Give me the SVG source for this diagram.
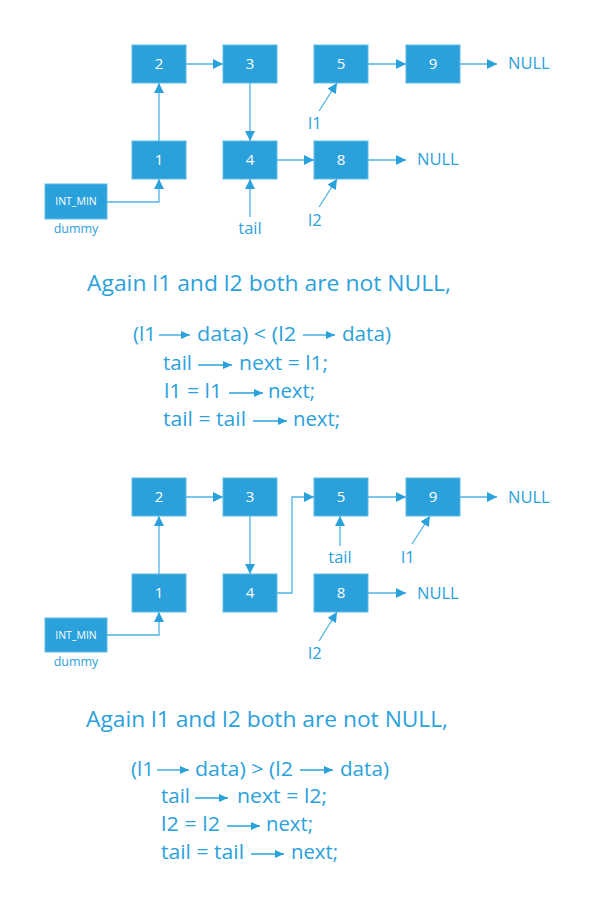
<svg xmlns="http://www.w3.org/2000/svg" width="595" height="900" viewBox="0 0 595 900">
<defs>
<style>
.box{fill:#2ba1dc;stroke:#62b9e6;stroke-width:1}
.nt{fill:#fff;font-family:"Open Sans","DejaVu Sans",sans-serif;font-size:15px;text-anchor:middle}
.sm{fill:#fff;font-family:"Open Sans","DejaVu Sans",sans-serif;font-size:10.5px;text-anchor:middle}
.lb{fill:#2ba1dc;font-family:"Open Sans","DejaVu Sans",sans-serif;font-size:16.5px}
.lbs{fill:#2ba1dc;font-family:"Open Sans","DejaVu Sans",sans-serif;font-size:12.5px}
.hd{fill:#2ba1dc;font-family:"Open Sans","DejaVu Sans",sans-serif;font-size:22.5px}
.cd{fill:#2ba1dc;font-family:"Open Sans","DejaVu Sans",sans-serif;font-size:19.5px}
.ln{fill:none;stroke:#4fb2e4;stroke-width:1.3}
.ca{fill:none;stroke:#2ba1dc;stroke-width:1.3}
</style>
<marker id="ah" markerWidth="10" markerHeight="10" refX="10" refY="5" orient="auto" markerUnits="userSpaceOnUse" viewBox="0 0 10 10">
<path d="M0,0 L10,5 L0,10 Z" fill="#2ba1dc"/>
</marker>
<marker id="sa" markerWidth="9" markerHeight="8" refX="9" refY="4" orient="auto" markerUnits="userSpaceOnUse" viewBox="0 0 9 8">
<path d="M0,0 L9,4 L0,8 Z" fill="#2ba1dc"/>
</marker>
</defs>
<rect width="595" height="900" fill="#fff"/>

<!-- Top diagram -->
<g id="connectors-top">
<path class="ln" d="M107,202 H159 V179" marker-end="url(#ah)"/>
<path class="ln" d="M159,141 V83" marker-end="url(#ah)"/>
<path class="ln" d="M186,64 H223" marker-end="url(#ah)"/>
<path class="ln" d="M250,83 V141" marker-end="url(#ah)"/>
<path class="ln" d="M277,160 H314" marker-end="url(#ah)"/>
<path class="ln" d="M368,64 H406" marker-end="url(#ah)"/>
<path class="ln" d="M459,64 H497" marker-end="url(#ah)"/>
<path class="ln" d="M368,160 H406" marker-end="url(#ah)"/>
<path class="ln" d="M319,111 L337,83" marker-end="url(#ah)"/>
<path class="ln" d="M319,207 L337,179" marker-end="url(#ah)"/>
<path class="ln" d="M250,217 V179" marker-end="url(#ah)"/>
</g>
<g id="t-n2"><rect class="box" x="132" y="45" width="54" height="38"/><text class="nt" x="159" y="69">2</text></g>
<g id="t-n3"><rect class="box" x="223" y="45" width="54" height="38"/><text class="nt" x="250" y="69">3</text></g>
<g id="t-n5"><rect class="box" x="314" y="45" width="54" height="38"/><text class="nt" x="341" y="69">5</text></g>
<g id="t-n9"><rect class="box" x="406" y="45" width="54" height="38"/><text class="nt" x="433" y="69">9</text></g>
<g id="t-n1"><rect class="box" x="132" y="141" width="54" height="38"/><text class="nt" x="159" y="165">1</text></g>
<g id="t-n4"><rect class="box" x="223" y="141" width="54" height="38"/><text class="nt" x="250" y="165">4</text></g>
<g id="t-n8"><rect class="box" x="314" y="141" width="54" height="38"/><text class="nt" x="341" y="165">8</text></g>
<g id="t-dummy"><rect class="box" x="45" y="184" width="62" height="35"/><text class="sm" x="76" y="205">INT_MIN</text><text class="lbs" x="76" y="233" text-anchor="middle">dummy</text></g>
<g id="t-labels">
<text class="lb" x="508" y="69">NULL</text>
<text class="lb" x="417" y="165">NULL</text>
<text class="lb" x="308" y="129">l1</text>
<text class="lb" x="308" y="226">l2</text>
<text class="lb" x="250" y="234" text-anchor="middle">tail</text>
</g>

<!-- First text block -->
<g id="text1">
<text class="hd" x="87" y="291" textLength="364" lengthAdjust="spacingAndGlyphs">Again l1 and l2 both are not NULL,</text>
<text class="cd" x="133" y="341" textLength="23" lengthAdjust="spacingAndGlyphs">(l1</text>
<text class="cd" x="197" y="341" textLength="99" lengthAdjust="spacingAndGlyphs">data) &lt; (l2</text>
<text class="cd" x="342" y="341" textLength="49" lengthAdjust="spacingAndGlyphs">data)</text>
<text class="cd" x="163" y="370" textLength="29" lengthAdjust="spacingAndGlyphs">tail</text>
<text class="cd" x="239" y="370" textLength="89" lengthAdjust="spacingAndGlyphs">next = l1;</text>
<text class="cd" x="164" y="398" textLength="58" lengthAdjust="spacingAndGlyphs">l1 = l1</text>
<text class="cd" x="268" y="398" textLength="47" lengthAdjust="spacingAndGlyphs">next;</text>
<text class="cd" x="163" y="426" textLength="83" lengthAdjust="spacingAndGlyphs">tail = tail</text>
<text class="cd" x="293" y="426" textLength="47" lengthAdjust="spacingAndGlyphs">next;</text>
<path class="ca" d="M159,335 H190" marker-end="url(#sa)"/>
<path class="ca" d="M303,335 H335" marker-end="url(#sa)"/>
<path class="ca" d="M198,365 H232" marker-end="url(#sa)"/>
<path class="ca" d="M229,393 H263" marker-end="url(#sa)"/>
<path class="ca" d="M253,421 H287" marker-end="url(#sa)"/>
</g>

<!-- Bottom diagram -->
<g id="connectors-bottom">
<path class="ln" d="M107,635 H159 V612" marker-end="url(#ah)"/>
<path class="ln" d="M159,574 V516" marker-end="url(#ah)"/>
<path class="ln" d="M186,497 H223" marker-end="url(#ah)"/>
<path class="ln" d="M250,516 V574" marker-end="url(#ah)"/>
<path class="ln" d="M277,593 H292 V497 H314" marker-end="url(#ah)"/>
<path class="ln" d="M368,497 H406" marker-end="url(#ah)"/>
<path class="ln" d="M459,497 H497" marker-end="url(#ah)"/>
<path class="ln" d="M368,593 H406" marker-end="url(#ah)"/>
<path class="ln" d="M340,546 V516" marker-end="url(#ah)"/>
<path class="ln" d="M412,544 L430,516" marker-end="url(#ah)"/>
<path class="ln" d="M319,641 L337,612" marker-end="url(#ah)"/>
</g>
<g id="b-n2"><rect class="box" x="132" y="478" width="54" height="38"/><text class="nt" x="159" y="502">2</text></g>
<g id="b-n3"><rect class="box" x="223" y="478" width="54" height="38"/><text class="nt" x="250" y="502">3</text></g>
<g id="b-n5"><rect class="box" x="314" y="478" width="54" height="38"/><text class="nt" x="341" y="502">5</text></g>
<g id="b-n9"><rect class="box" x="406" y="478" width="54" height="38"/><text class="nt" x="433" y="502">9</text></g>
<g id="b-n1"><rect class="box" x="132" y="574" width="54" height="38"/><text class="nt" x="159" y="598">1</text></g>
<g id="b-n4"><rect class="box" x="223" y="574" width="54" height="38"/><text class="nt" x="250" y="598">4</text></g>
<g id="b-n8"><rect class="box" x="314" y="574" width="54" height="38"/><text class="nt" x="341" y="598">8</text></g>
<g id="b-dummy"><rect class="box" x="45" y="618" width="62" height="34"/><text class="sm" x="76" y="639">INT_MIN</text><text class="lbs" x="76" y="666" text-anchor="middle">dummy</text></g>
<g id="b-labels">
<text class="lb" x="508" y="503">NULL</text>
<text class="lb" x="417" y="599">NULL</text>
<text class="lb" x="340" y="563" text-anchor="middle">tail</text>
<text class="lb" x="401" y="563">l1</text>
<text class="lb" x="308" y="659">l2</text>
</g>

<!-- Second text block -->
<g id="text2">
<text class="hd" x="86" y="727" textLength="362" lengthAdjust="spacingAndGlyphs">Again l1 and l2 both are not NULL,</text>
<text class="cd" x="131" y="776" textLength="23" lengthAdjust="spacingAndGlyphs">(l1</text>
<text class="cd" x="195" y="776" textLength="98" lengthAdjust="spacingAndGlyphs">data) &gt; (l2</text>
<text class="cd" x="340" y="776" textLength="49" lengthAdjust="spacingAndGlyphs">data)</text>
<text class="cd" x="161" y="803" textLength="29" lengthAdjust="spacingAndGlyphs">tail</text>
<text class="cd" x="237" y="803" textLength="90" lengthAdjust="spacingAndGlyphs">next = l2;</text>
<text class="cd" x="161" y="831" textLength="59" lengthAdjust="spacingAndGlyphs">l2 = l2</text>
<text class="cd" x="266" y="831" textLength="47" lengthAdjust="spacingAndGlyphs">next;</text>
<text class="cd" x="161" y="859" textLength="83" lengthAdjust="spacingAndGlyphs">tail = tail</text>
<text class="cd" x="291" y="859" textLength="47" lengthAdjust="spacingAndGlyphs">next;</text>
<path class="ca" d="M157,770 H189" marker-end="url(#sa)"/>
<path class="ca" d="M300,770 H333" marker-end="url(#sa)"/>
<path class="ca" d="M195,798 H228" marker-end="url(#sa)"/>
<path class="ca" d="M227,826 H260" marker-end="url(#sa)"/>
<path class="ca" d="M251,854 H284" marker-end="url(#sa)"/>
</g>
</svg>
